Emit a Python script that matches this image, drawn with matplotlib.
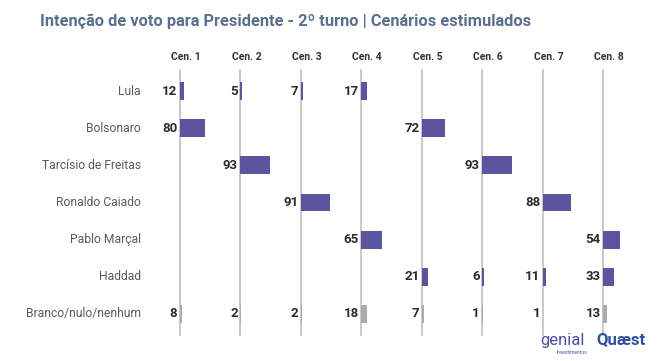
import numpy as np
import matplotlib.pyplot as plt

# Data
candidates = ['Lula', 'Bolsonaro', 'Tarcísio de Freitas', 'Ronaldo Caiado',
              'Pablo Marçal', 'Haddad', 'Branco/nulo/nenhum']
scenarios = ['Cen. 1', 'Cen. 2', 'Cen. 3', 'Cen. 4', 'Cen. 5', 'Cen. 6', 'Cen. 7', 'Cen. 8']
# rows = candidates, columns = scenarios (None = not in scenario)
lula     = [12, 5, 7, 17, None, None, None, None]
bolso    = [80, None, None, None, 72, None, None, None]
tarcisio = [None, 93, None, None, None, 93, None, None]
caiado   = [None, None, 91, None, None, None, 88, None]
marcal   = [None, None, None, 65, None, None, None, 54]
haddad   = [None, None, None, None, 21, 6, 11, 33]
branco   = [8, 2, 2, 18, 7, 1, 1, 13]
values = [lula, bolso, tarcisio, caiado, marcal, haddad, branco]

purple = '#5b559f'
grey_bar = '#ababab'
spacing = 192  # column spacing in value units

plt.rcParams['font.family'] = ['Roboto', 'DejaVu Sans']

fig = plt.figure(figsize=(6.61, 3.61), dpi=100)
fig.patch.set_facecolor('white')
ax = fig.add_axes([150/661, 1 - 340/361, 500/661, 295/361])
ax.set_xlim(-95, -95 + 500/0.315)
ax.set_ylim(6.7, -1.24)
ax.axis('off')

# column lines and headers
for j, sc in enumerate(scenarios):
    x0 = j * spacing
    ax.plot([x0, x0], [-0.57, 6.56], color='#c4c4c4', lw=1.3, zorder=1)
    ax.text(x0 + 19, -0.92, sc, ha='center', va='center', fontsize=7.5,
            fontweight='bold', color='#333333')

# bars
for i, (name, row) in enumerate(zip(candidates, values)):
    ax.text(-124, i, name, ha='right', va='center', fontsize=8.7,
            fontweight='normal', color='#5a5a5a', clip_on=False)
    color = grey_bar if name.startswith('Branco') else purple
    for j, v in enumerate(row):
        if v is None:
            continue
        x0 = j * spacing
        ax.barh(i, v, left=x0, height=0.48, color=color, zorder=2)
        ax.text(x0 - 8, i, str(v), ha='right', va='center', fontsize=9.5,
                fontweight='bold', color='#2b2b2b')

# title
fig.text(40/661, 1 - 21/361, 'Intenção de voto para Presidente - 2º turno | Cenários estimulados',
         ha='left', va='center', fontsize=11.8, fontweight='bold', color='#5a6f8e')

# logos
fig.text(540/661, 1 - 341/361, 'genial', ha='left', va='center', fontsize=12,
         color='#4a4fa0')
fig.text(557/661, 1 - 352/361, 'investimentos', ha='left', va='center', fontsize=3.5,
         color='#4a4fa0')
fig.text(596/661, 1 - 340/361, 'Quæst', ha='left', va='center', fontsize=12,
         fontweight='bold', color='#2c4f9e')

fig.savefig('out.png', dpi=100)
